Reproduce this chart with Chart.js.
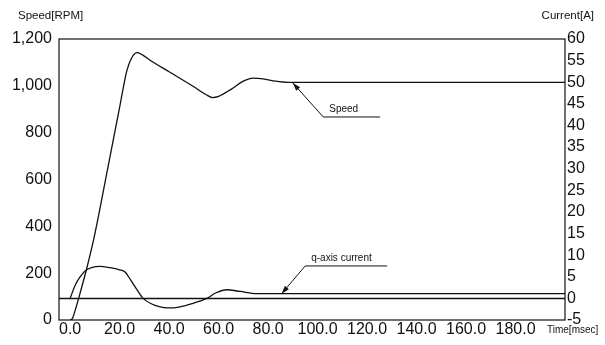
<!DOCTYPE html>
<html>
<head>
<meta charset="utf-8">
<script src="https://cdn.jsdelivr.net/npm/chart.js@4"></script>
<style>
  html, body { margin: 0; padding: 0; background: #fff; }
  #wrap { width: 605px; height: 345px; }
</style>
</head>
<body>
<div id="wrap"><canvas id="chart"></canvas></div>
<script>
// Speed curve (time in msec, speed in RPM)
var speedTime = [0, 1, 2, 4, 6.7, 10, 15, 20, 22.9, 25, 27.2, 29.5, 32.3, 40, 50, 55, 57.5, 60, 65, 70, 74, 78, 83, 88, 200];
var speedRpm  = [0, 8, 40, 114, 220, 368, 637, 908, 1064, 1122, 1142, 1130, 1109, 1060, 996, 962, 950, 955, 985, 1020, 1033, 1030, 1020, 1015, 1015];

// q-axis current (time in msec, current in A)
var currentTime = [0, 2, 4, 6.7, 9, 12, 16, 20, 22.2, 24.5, 27, 29.5, 33, 36, 39.6, 44, 50, 55.2, 59, 63.3, 68.7, 75.4, 85.5, 200];
var qCurrent    = [0, 3.0, 5.0, 6.6, 7.2, 7.4, 7.1, 6.6, 6.1, 4.2, 2.0, 0, -1.3, -1.9, -2.2, -2.0, -1.1, 0, 1.3, 2.0, 1.6, 1.1, 1.1, 1.1];

var timeTicks = [0, 20, 40, 60, 80, 100, 120, 140, 160, 180];
var speedTicks = [0, 200, 400, 600, 800, 1000, 1200];
var currentTicks = [-5, 0, 5, 10, 15, 20, 25, 30, 35, 40, 45, 50, 55, 60];

// callouts: arrow tip on the curve, elbow of the leader line, end of underline
var callouts = [
  { text: 'Speed', axis: 'y', tip: [90, 1012], elbow: [102.3, 867], end: 125.3 },
  { text: 'q-axis current', axis: 'y1', tip: [85.5, 1.1], elbow: [95, 7.5], end: 128.1 }
];

var FONT = '"Liberation Sans", Arial, sans-serif';
var INK = '#111';

function toPoints(xs, ys) {
  return xs.map(function(x, i) { return { x: x, y: ys[i] }; });
}

var decor = {
  id: 'decor',
  afterDraw: function(chart) {
    var ctx = chart.ctx;
    var a = chart.chartArea;
    var sx = chart.scales.x;
    ctx.save();
    // plot frame
    ctx.strokeStyle = INK;
    ctx.lineWidth = 1.2;
    ctx.strokeRect(a.left, a.top, a.right - a.left, a.bottom - a.top);

    // axis titles
    ctx.fillStyle = INK;
    ctx.textBaseline = 'middle';
    ctx.font = '11.5px ' + FONT;
    ctx.textAlign = 'left';
    ctx.fillText('Speed[RPM]', 18, 16);
    ctx.textAlign = 'right';
    ctx.fillText('Current[A]', 594, 16);
    ctx.font = '10px ' + FONT;
    ctx.textAlign = 'left';
    ctx.fillText('Time[msec]', 547, 330);

    // callouts
    ctx.font = '10px ' + FONT;
    ctx.lineWidth = 1;
    callouts.forEach(function(c) {
      var sy = chart.scales[c.axis];
      var tx = sx.getPixelForValue(c.tip[0]), ty = sy.getPixelForValue(c.tip[1]);
      var ex = sx.getPixelForValue(c.elbow[0]), ey = sy.getPixelForValue(c.elbow[1]);
      var endX = sx.getPixelForValue(c.end);
      ctx.beginPath();
      ctx.moveTo(endX, ey);
      ctx.lineTo(ex, ey);
      ctx.lineTo(tx, ty);
      ctx.stroke();
      var ang = Math.atan2(ty - ey, tx - ex);
      var len = 8, w = 2.6;
      ctx.beginPath();
      ctx.moveTo(tx, ty);
      ctx.lineTo(tx - len * Math.cos(ang) + w * Math.sin(ang), ty - len * Math.sin(ang) - w * Math.cos(ang));
      ctx.lineTo(tx - len * Math.cos(ang) - w * Math.sin(ang), ty - len * Math.sin(ang) + w * Math.cos(ang));
      ctx.closePath();
      ctx.fill();
      ctx.textAlign = 'left';
      ctx.textBaseline = 'alphabetic';
      ctx.fillText(c.text, ex + 6, ey - 5);
    });
    ctx.restore();
  }
};

new Chart(document.getElementById('chart'), {
  type: 'line',
  data: {
    datasets: [
      {
        label: 'Speed',
        data: toPoints(speedTime, speedRpm),
        yAxisID: 'y',
        borderColor: INK,
        borderWidth: 1.3,
        pointRadius: 0,
        cubicInterpolationMode: 'monotone'
      },
      {
        label: 'q-axis current',
        data: toPoints(currentTime, qCurrent),
        yAxisID: 'y1',
        borderColor: INK,
        borderWidth: 1.3,
        pointRadius: 0,
        cubicInterpolationMode: 'monotone'
      },
      {
        label: 'zero',
        data: [{ x: -4.5, y: 0 }, { x: 200, y: 0 }],
        yAxisID: 'y1',
        borderColor: INK,
        borderWidth: 1.5,
        pointRadius: 0
      }
    ]
  },
  options: {
    responsive: true,
    maintainAspectRatio: false,
    animation: false,
    layout: { padding: { top: 39, left: 0, right: 0, bottom: 0 } },
    plugins: { legend: { display: false }, tooltip: { enabled: false } },
    scales: {
      x: {
        type: 'linear',
        min: -4.5,
        max: 200,
        grid: { display: false, drawTicks: false },
        border: { display: false },
        afterBuildTicks: function(s) { s.ticks = timeTicks.map(function(v) { return { value: v }; }); },
        afterFit: function(s) { s.height = 25; },
        ticks: {
          autoSkip: false,
          maxRotation: 0,
          padding: 0,
          color: INK,
          font: { family: FONT, size: 16 },
          callback: function(v) { return Number(v).toFixed(1); }
        }
      },
      y: {
        position: 'left',
        min: 0,
        max: 1200,
        grid: { display: false, drawTicks: false },
        border: { display: false },
        afterBuildTicks: function(s) { s.ticks = speedTicks.map(function(v) { return { value: v }; }); },
        afterFit: function(s) { s.width = 59; },
        ticks: {
          autoSkip: false,
          padding: 7,
          color: INK,
          font: { family: FONT, size: 16 },
          callback: function(v) { return Number(v).toLocaleString('en-US'); }
        }
      },
      y1: {
        position: 'right',
        min: -5,
        max: 60,
        grid: { display: false, drawTicks: false },
        border: { display: false },
        afterBuildTicks: function(s) { s.ticks = currentTicks.map(function(v) { return { value: v }; }); },
        afterFit: function(s) { s.width = 40; },
        ticks: {
          autoSkip: false,
          padding: 2,
          color: INK,
          font: { family: FONT, size: 16 }
        }
      }
    }
  },
  plugins: [decor]
});
</script>
</body>
</html>
